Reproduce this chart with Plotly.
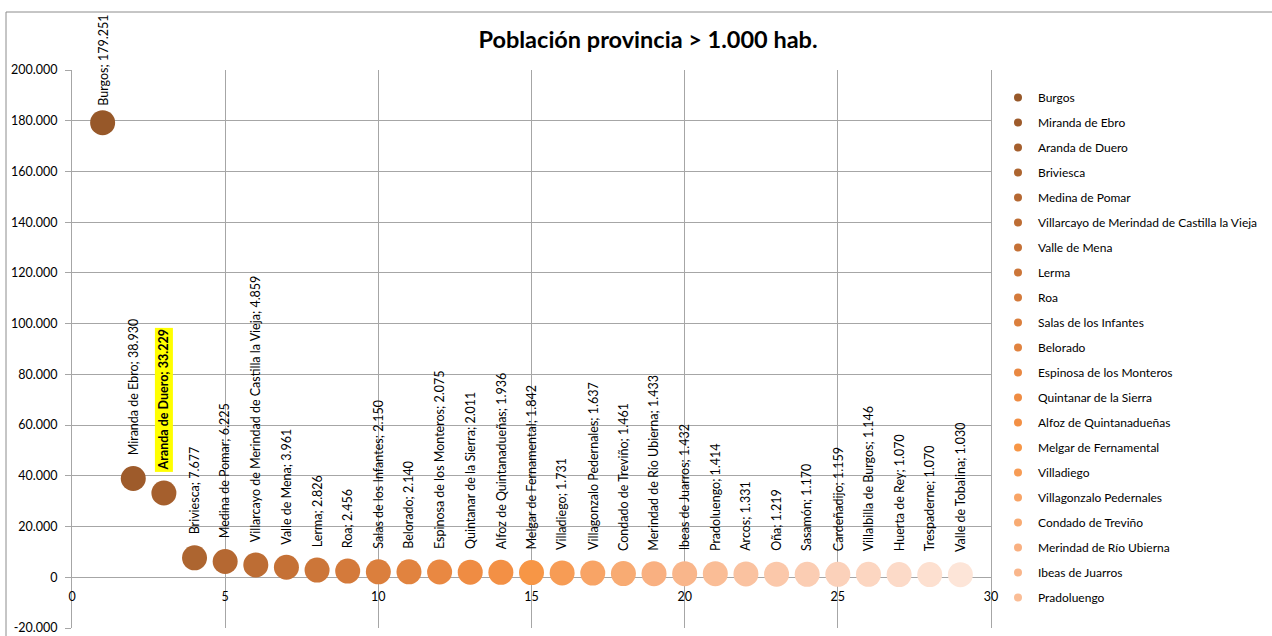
import plotly.graph_objects as go

# ---------------- data ----------------
names = [
    "Burgos", "Miranda de Ebro", "Aranda de Duero", "Briviesca", "Medina de Pomar",
    "Villarcayo de Merindad de Castilla la Vieja", "Valle de Mena", "Lerma", "Roa",
    "Salas de los Infantes", "Belorado", "Espinosa de los Monteros", "Quintanar de la Sierra",
    "Alfoz de Quintanadueñas", "Melgar de Fernamental", "Villadiego", "Villagonzalo Pedernales",
    "Condado de Treviño", "Merindad de Río Ubierna", "Ibeas de Juarros", "Pradoluengo",
    "Arcos", "Oña", "Sasamón", "Cardeñadijo", "Villalbilla de Burgos", "Huerta de Rey",
    "Trespaderne", "Valle de Tobalina",
]
rank = list(range(1, 30))
population = [
    179251, 38930, 33229, 7677, 6225, 4859, 3961, 2826, 2456, 2150, 2140, 2075, 2011,
    1936, 1842, 1731, 1637, 1461, 1433, 1432, 1414, 1331, 1219, 1170, 1159, 1146, 1070,
    1070, 1030,
]
colors = [
    "#975829", "#9E5B2B", "#A55F2D", "#AD6530", "#B56832", "#BD6D34", "#C57136",
    "#CC7639", "#D47A3B", "#DB7F3D", "#E1833F", "#E98842", "#EF8C43", "#F39045",
    "#F79646", "#F79C55", "#F8A466", "#F8AB73", "#F9B081", "#F9B68B", "#FABD96",
    "#FAC2A0", "#FBC8AA", "#FBCDB3", "#FBD1BA", "#FCD6C1", "#FCDAC8", "#FDE0D0",
    "#FDE5D8",
]
legend_count = 21  # legend in the original is truncated after Pradoluengo
highlight_name = "Aranda de Duero"

y_tick_vals = [-20000, 0, 20000, 40000, 60000, 80000, 100000, 120000, 140000, 160000, 180000, 200000]
y_tick_labels = ["-20.000", "0", "20.000", "40.000", "60.000", "80.000", "100.000",
                 "120.000", "140.000", "160.000", "180.000", "200.000"]
x_tick_vals = [0, 5, 10, 15, 20, 25, 30]

title_text = "Población provincia > 1.000 hab."

FONT = "Lato, Calibri, 'Noto Sans', sans-serif"
GRID = "#A6A6A6"


def fmt(v):
    return f"{v:,}".replace(",", ".")


fig = go.Figure()

# plotted markers (one trace per municipality, like the original)
for n, x, y, c in zip(names, rank, population, colors):
    fig.add_trace(go.Scatter(
        x=[x], y=[y], mode="markers", name=n,
        marker=dict(size=25, color=c, line=dict(width=0)),
        showlegend=False, hoverinfo="x+y+name",
    ))

# legend-only entries with small markers
for n, c in zip(names[:legend_count], colors[:legend_count]):
    fig.add_trace(go.Scatter(
        x=[None], y=[None], mode="markers", name=n, legendgroup=n,
        marker=dict(size=8, color=c), showlegend=True,
    ))

# data labels
for n, x, y in zip(names, rank, population):
    hl = (n == highlight_name)
    fig.add_annotation(
        x=x, y=y, xref="x", yref="y",
        text=(f"<b>{n}; {fmt(y)}</b>" if hl else f"{n}; {fmt(y)}"),
        textangle=-90, showarrow=False,
        xanchor="center", yanchor="bottom",
        yshift=(15 if y > 150000 else 21),
        font=dict(family=FONT, size=12.5, color="#000000"),
        bgcolor=("#FFFF00" if hl else "rgba(0,0,0,0)"),
        borderpad=1,
    )

# outer chart frame (top and left edges visible in the crop)
fig.add_shape(type="line", xref="paper", yref="paper",
              x0=(6 - 72) / 919, x1=1.4, y0=(628 - 12) / 558, y1=(628 - 12) / 558,
              line=dict(color="#8C8C8C", width=1))
fig.add_shape(type="line", xref="paper", yref="paper",
              x0=(6 - 72) / 919, x1=(6 - 72) / 919, y0=(628 - 12) / 558, y1=-0.2,
              line=dict(color="#8C8C8C", width=1))

fig.update_layout(
    width=1272, height=636,
    margin=dict(l=72, r=281, t=70, b=8, autoexpand=False),
    paper_bgcolor="white", plot_bgcolor="white",
    font=dict(family=FONT, size=12, color="#000000"),
    title=dict(text=f"<b>{title_text}</b>", x=648 / 1272, xanchor="center",
               y=1 - 40 / 636, yanchor="middle", xref="container", yref="container",
               font=dict(family=FONT, size=23.5, color="#000000")),
    legend=dict(x=(998 - 72) / 919, xanchor="left", y=(628 - 83) / 558, yanchor="top",
                font=dict(family=FONT, size=12, color="#000000"),
                tracegroupgap=6, itemclick=False, bgcolor="rgba(0,0,0,0)"),
    showlegend=True,
)

fig.update_xaxes(
    range=[0, 30], tickvals=x_tick_vals, ticktext=[str(v) for v in x_tick_vals],
    showgrid=True, gridcolor=GRID, gridwidth=1,
    zeroline=False, showline=False, automargin=False,
    anchor="free", position=(628 - 577) / 558,
    ticks="", ticklabelstandoff=10,
    tickfont=dict(family=FONT, size=12.5, color="#000000"),
)
fig.update_yaxes(
    range=[-20000, 200000], tickvals=y_tick_vals, ticktext=y_tick_labels,
    showgrid=True, gridcolor=GRID, gridwidth=1,
    zeroline=True, zerolinecolor=GRID, zerolinewidth=1,
    showline=True, linecolor=GRID, linewidth=1, mirror=True, automargin=False,
    ticks="outside", ticklen=6, tickcolor=GRID, ticklabelstandoff=5,
    tickfont=dict(family=FONT, size=12.5, color="#000000"),
)

fig.write_html("out.html", config={"displayModeBar": False},
               post_script="document.body.style.margin='0px';")
